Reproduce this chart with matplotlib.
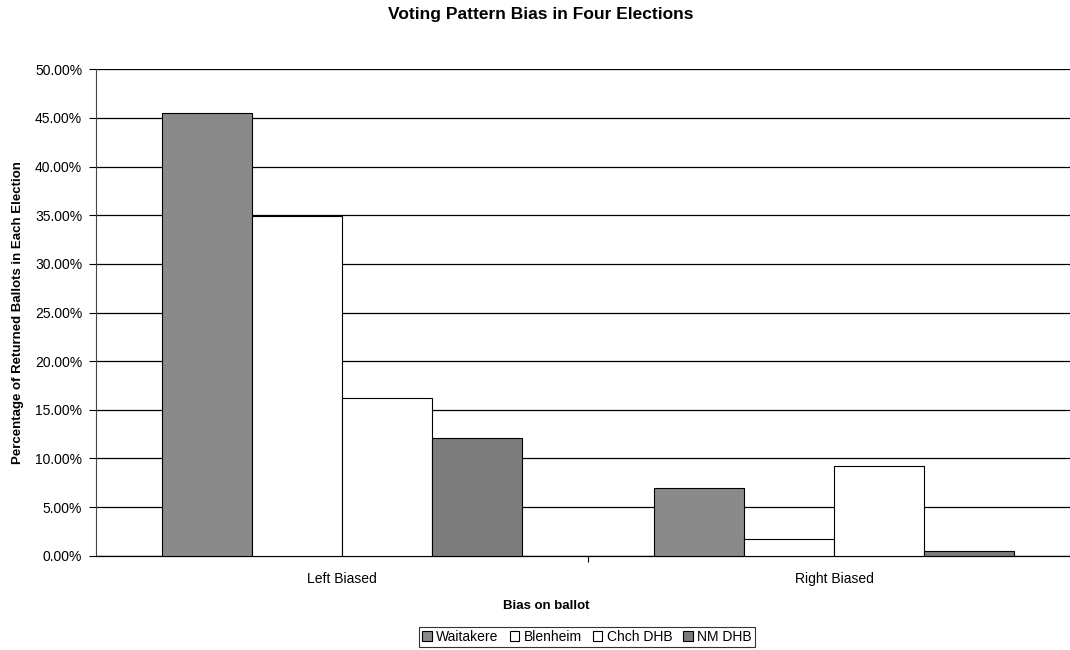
import matplotlib.pyplot as plt
import numpy as np
from matplotlib.patches import Patch
from matplotlib.ticker import FuncFormatter

plt.rcParams['font.family'] = ['Liberation Sans', 'DejaVu Sans']

categories = ['Left Biased', 'Right Biased']
series = ['Waitakere', 'Blenheim', 'Chch DHB', 'NM DHB']
waitakere = [45.5, 7.0]
blenheim = [34.9, 1.7]
chch = [16.2, 9.25]
nm_dhb = [12.1, 0.5]

values = [waitakere, blenheim, chch, nm_dhb]
fills = ['#8a8a8a', 'white', 'white', '#7c7c7c']

fig = plt.figure(figsize=(10.7, 6.5), dpi=100)
ax = fig.add_axes([96 / 1070, 94.3 / 650, 974 / 1070, 486.4 / 650])

# one category = 1 unit, bars are 90 px out of a 492 px category
bw = 90 / 492
x = np.arange(len(categories)) + 0.5
for i, (vals, fc) in enumerate(zip(values, fills)):
    ax.bar(x + (i - 1.5) * bw, vals, width=bw, color=fc,
           edgecolor='black', linewidth=0.8, zorder=3)

ax.set_xlim(0, 974 / 492)
ax.set_ylim(0, 50)
ax.set_yticks(np.arange(0, 51, 5))
ax.yaxis.set_major_formatter(FuncFormatter(lambda v, p: f'{v:.2f}%'))
ax.set_xticks(x)
ax.set_xticklabels(categories)
ax.set_xticks([1.0], minor=True)
ax.tick_params(axis='x', which='major', length=0, pad=12, labelsize=10)
ax.tick_params(axis='x', which='minor', length=4, width=0.8, direction='out')
ax.tick_params(axis='y', length=5, width=0.8, direction='out', labelsize=10, pad=5)

ax.grid(axis='y', color='black', linewidth=0.9, zorder=0)
ax.set_axisbelow(True)
for s in ['top', 'right']:
    ax.spines[s].set_visible(False)
ax.spines['left'].set_linestyle((0, (2, 1)))
ax.spines['left'].set_color('#444444')
ax.spines['left'].set_linewidth(0.8)
ax.spines['bottom'].set_linewidth(0.9)

ax.set_ylabel('Percentage of Returned Ballots in Each Election',
              fontsize=9.5, fontweight='bold')
ax.yaxis.set_label_coords(-72 / 974, 0.5)
ax.set_xlabel('Bias on ballot', fontsize=9.5, fontweight='bold')
ax.xaxis.set_label_coords((546 - 96) / 974, -44 / 486.4)

fig.text(541 / 1070, 1 - 15 / 650, 'Voting Pattern Bias in Four Elections',
         ha='center', va='center', fontsize=12.5, fontweight='bold')

handles = [Patch(facecolor=fc, edgecolor='black', linewidth=0.8) for fc in fills]
leg = fig.legend(handles, series, loc='center', bbox_to_anchor=(587 / 1070, 1 - 637 / 650),
                 ncol=4, fontsize=10, frameon=True, fancybox=False,
                 handlelength=0.7, handleheight=0.7, handletextpad=0.3,
                 columnspacing=0.8, borderpad=0.25)
leg.get_frame().set_edgecolor('black')
leg.get_frame().set_linewidth(0.8)

fig.savefig('out.png', dpi=100)
